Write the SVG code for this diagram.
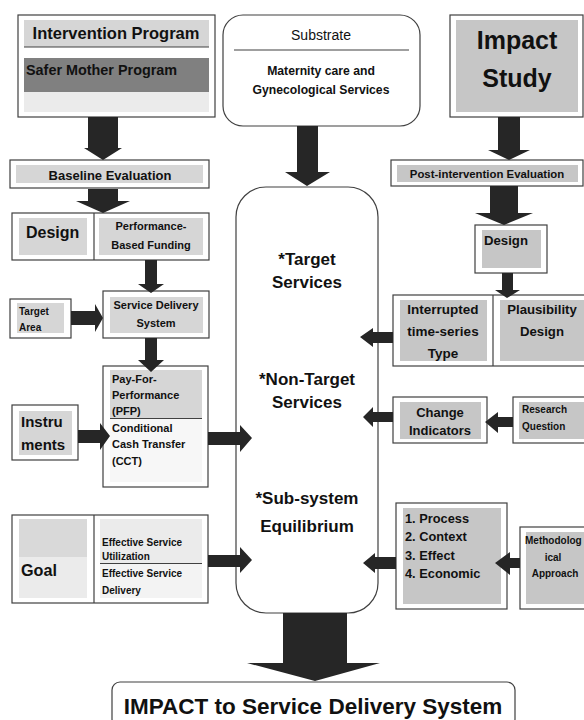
<svg xmlns="http://www.w3.org/2000/svg" width="584" height="720" viewBox="0 0 584 720">
<style>
.box{fill:#fff;stroke:#404040;stroke-width:1.2}
.g1{fill:#d6d6d6}
.g2{fill:#c6c6c6}
.g3{fill:#ebebeb}
.arr{fill:#262626}
text{font-family:"Liberation Sans",Arial,sans-serif;font-weight:bold;fill:#111}
.c{text-anchor:middle}
</style>
<rect width="584" height="720" fill="#fff"/>
<g id="intervention">
<rect class="box" x="18" y="15" width="197" height="102"/>
<rect class="g1" x="24" y="20" width="185" height="27"/>
<line x1="24" y1="47" x2="209" y2="47" stroke="#404040" stroke-width="1.2"/>
<rect x="24" y="58" width="185" height="34" fill="#808080"/>
<rect class="g3" x="24" y="92" width="185" height="20"/>
<text class="c" x="116" y="39" font-size="16.5">Intervention Program</text>
<text x="26" y="75" font-size="14.4">Safer Mother Program</text>
</g>
<g id="substrate">
<rect class="box" x="223" y="15" width="197" height="111" rx="20"/>
<line x1="234" y1="50" x2="409" y2="50" stroke="#404040" stroke-width="1.2"/>
<text class="c" x="321" y="40" font-size="14" style="font-weight:normal">Substrate</text>
<text class="c" x="321" y="75" font-size="12.2">Maternity care and</text>
<text class="c" x="321" y="94" font-size="12.2">Gynecological Services</text>
</g>
<g id="impact-study">
<rect class="box" x="450" y="15" width="133" height="102"/>
<rect class="g2" x="456" y="20" width="122" height="92"/>
<text class="c" x="517" y="49" font-size="25">Impact</text>
<text class="c" x="517" y="87" font-size="25">Study</text>
</g>
<g id="baseline">
<rect class="box" x="10" y="160" width="199" height="28"/>
<rect class="g1" x="16" y="165" width="187" height="18"/>
<text class="c" x="110" y="179.5" font-size="13">Baseline Evaluation</text>
</g>
<g id="post-intervention">
<rect class="box" x="391" y="160" width="192" height="26"/>
<rect class="g2" x="397" y="165" width="181" height="17"/>
<text class="c" x="487" y="178" font-size="11.4">Post-intervention Evaluation</text>
</g>
<g id="design-left">
<rect class="box" x="12" y="213" width="197" height="47"/>
<line x1="94" y1="213" x2="94" y2="260" stroke="#404040" stroke-width="1.2"/>
<rect class="g1" x="19" y="218" width="68" height="37"/>
<rect class="g1" x="99" y="218" width="104" height="37"/>
<text x="26" y="238" font-size="16">Design</text>
<text class="c" x="151" y="230" font-size="11">Performance-</text>
<text class="c" x="151" y="249" font-size="11">Based Funding</text>
</g>
<g id="target-area">
<rect class="box" x="10" y="299" width="61" height="39"/>
<rect class="g1" x="17" y="303" width="47" height="30"/>
<text x="19" y="315" font-size="10">Target</text>
<text x="19" y="331" font-size="10">Area</text>
</g>
<g id="service-delivery">
<rect class="box" x="103" y="291" width="106" height="47"/>
<rect class="g1" x="110" y="297" width="93" height="36"/>
<text class="c" x="156" y="309" font-size="11">Service Delivery</text>
<text class="c" x="156" y="327" font-size="11">System</text>
</g>
<g id="pfp">
<rect class="box" x="103" y="366" width="105" height="121"/>
<rect class="g1" x="110" y="370" width="92" height="48"/>
<rect x="110" y="419" width="92" height="63" fill="#f7f7f7"/>
<line x1="110" y1="418.5" x2="202" y2="418.5" stroke="#404040" stroke-width="1.2"/>
<text x="112" y="383" font-size="11">Pay-For-</text>
<text x="112" y="399" font-size="11">Performance</text>
<text x="112" y="415" font-size="11">(PFP)</text>
<text x="112" y="432" font-size="11">Conditional</text>
<text x="112" y="448" font-size="11">Cash Transfer</text>
<text x="112" y="465" font-size="11">(CCT)</text>
</g>
<g id="instruments">
<rect class="box" x="12" y="405" width="66" height="55"/>
<rect class="g1" x="19" y="411" width="53" height="44"/>
<text x="21" y="427" font-size="15">Instru</text>
<text x="21" y="450" font-size="15">ments</text>
</g>
<g id="goal">
<rect class="box" x="12" y="515" width="196" height="88"/>
<line x1="94" y1="515" x2="94" y2="603" stroke="#404040" stroke-width="1.2"/>
<rect x="19" y="519" width="68" height="38" fill="#d9d9d9"/>
<rect class="g3" x="19" y="557" width="68" height="41"/>
<rect class="g3" x="100" y="519" width="102" height="44"/>
<rect x="100" y="564" width="102" height="34" fill="#f3f3f3"/>
<line x1="100" y1="563.5" x2="202" y2="563.5" stroke="#404040" stroke-width="1.2"/>
<text x="21" y="576" font-size="16.2">Goal</text>
<text x="102" y="545.5" font-size="10">Effective Service</text>
<text x="102" y="559.5" font-size="10">Utilization</text>
<text x="102" y="576.5" font-size="10">Effective Service</text>
<text x="102" y="593.5" font-size="10">Delivery</text>
</g>
<g id="center">
<rect class="box" x="236" y="187" width="142" height="426" rx="30"/>
<text class="c" x="307" y="265" font-size="17">*Target</text>
<text class="c" x="307" y="288" font-size="17">Services</text>
<text class="c" x="307" y="385" font-size="17">*Non-Target</text>
<text class="c" x="307" y="408" font-size="17">Services</text>
<text class="c" x="307" y="504" font-size="17">*Sub-system</text>
<text class="c" x="307" y="532" font-size="17">Equilibrium</text>
</g>
<g id="design-right">
<rect class="box" x="475" y="225" width="72" height="48"/>
<rect class="g2" x="482" y="230" width="59" height="38"/>
<text x="484" y="245" font-size="13.2">Design</text>
</g>
<g id="interrupted-plausibility">
<rect class="box" x="393" y="295" width="195" height="71"/>
<line x1="493" y1="295" x2="493" y2="366" stroke="#404040" stroke-width="1.2"/>
<rect class="g2" x="400" y="300" width="87" height="61"/>
<rect class="g2" x="500" y="300" width="84" height="61"/>
<text class="c" x="443" y="314" font-size="13.5">Interrupted</text>
<text class="c" x="443" y="336" font-size="13.5">time-series</text>
<text class="c" x="443" y="358" font-size="13.5">Type</text>
<text class="c" x="542" y="314" font-size="13.2">Plausibility</text>
<text class="c" x="542" y="336" font-size="13.2">Design</text>
</g>
<g id="change-indicators">
<rect class="box" x="393" y="397" width="94" height="46"/>
<rect class="g2" x="400" y="402" width="81" height="37"/>
<text class="c" x="440" y="417" font-size="13">Change</text>
<text class="c" x="440" y="435" font-size="13">Indicators</text>
</g>
<g id="research-question">
<rect class="box" x="513" y="397" width="75" height="46"/>
<rect class="g2" x="519" y="402" width="65" height="37"/>
<text x="522" y="412.5" font-size="10">Research</text>
<text x="522" y="429.5" font-size="10">Question</text>
</g>
<g id="process">
<rect class="box" x="396" y="503" width="111" height="106"/>
<rect class="g2" x="403" y="508" width="98" height="96"/>
<text x="405" y="522.5" font-size="12.8">1. Process</text>
<text x="405" y="540.5" font-size="12.8">2. Context</text>
<text x="405" y="559.5" font-size="12.8">3. Effect</text>
<text x="405" y="577.5" font-size="12.8">4. Economic</text>
</g>
<g id="methodological">
<rect class="box" x="520" y="527" width="68" height="82"/>
<rect class="g2" x="526" y="532" width="58" height="72"/>
<text x="525" y="543.5" font-size="10">Methodolog</text>
<text class="c" x="553" y="560.5" font-size="10">ical</text>
<text class="c" x="555" y="576.5" font-size="10">Approach</text>
</g>
<g id="impact-result">
<rect class="box" x="112" y="682" width="403" height="45" rx="8"/>
<text class="c" x="313" y="714" font-size="22.5">IMPACT to Service Delivery System</text>
</g>
<g id="connectors">
<polygon class="arr" points="88,117 118,117 118,148 122,148 103,160 84,148 88,148"/>
<polygon class="arr" points="88,189 118,189 118,201 130,201 103,213 76,201 88,201"/>
<polygon class="arr" points="145,260 157,260 157,284 164,284 151,293 138,284 145,284"/>
<polygon class="arr" points="71,311 95,311 95,304 103,318 95,332 95,325 71,325"/>
<polygon class="arr" points="145,338 157,338 157,360 164,360 151,372 138,360 145,360"/>
<polygon class="arr" points="78,430 100,430 100,423 110,436 100,450 100,443 78,443"/>
<polygon class="arr" points="208,432 240,432 240,425 252,438 240,452 240,445 208,445"/>
<polygon class="arr" points="208,555 240,555 240,547 252,560 240,573 240,567 208,567"/>
<polygon class="arr" points="297,126 318,126 318,172 330,172 307,186 285,172 297,172"/>
<polygon class="arr" points="498,117 520,117 520,150 530,150 509,160 488,150 498,150"/>
<polygon class="arr" points="490,186 518,186 518,213 533,213 504,225 475,213 490,213"/>
<polygon class="arr" points="502,273 513,273 513,290 520,290 507,298 495,290 502,290"/>
<polygon class="arr" points="393,332 373,332 373,328 360,337 373,347 373,343 393,343"/>
<polygon class="arr" points="393,412 373,412 373,407 363,417 373,427 373,422 393,422"/>
<polygon class="arr" points="513,417 498,417 498,412 485,422 498,433 498,427 513,427"/>
<polygon class="arr" points="396,557 375,557 375,553 363,563 375,573 375,569 396,569"/>
<polygon class="arr" points="520,558 510,558 510,552 495,563 510,575 510,568 520,568"/>
<polygon class="arr" points="283,613 347,613 347,663 380,663 315,681 247,663 283,663"/>
</g>
</svg>
